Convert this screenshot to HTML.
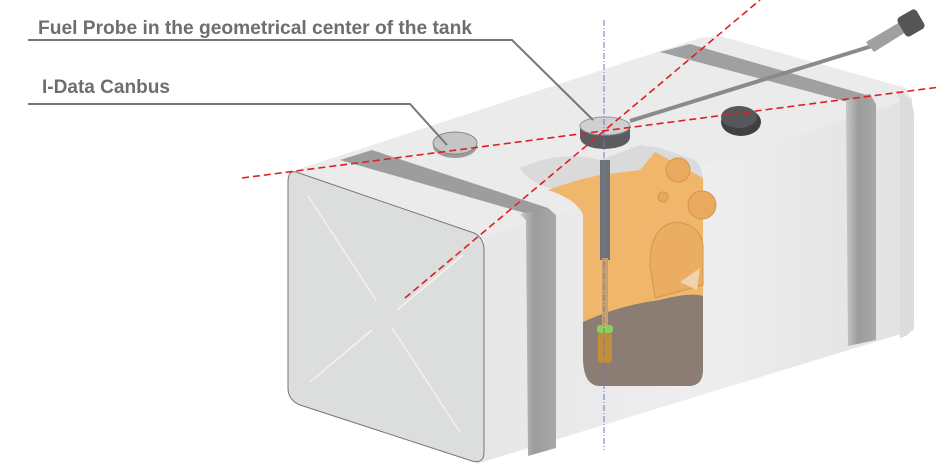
<!DOCTYPE html>
<html><head><meta charset="utf-8"><style>
html,body{margin:0;padding:0;background:#fff;width:940px;height:464px;overflow:hidden}
svg{display:block}
text{font-family:"Liberation Sans Narrow","Liberation Sans",sans-serif;font-weight:bold;fill:#6e6e6e}
</style></head><body>
<svg width="940" height="464" viewBox="0 0 940 464" xmlns="http://www.w3.org/2000/svg">
<defs>
<linearGradient id="side" x1="0" y1="0" x2="1" y2="0">
<stop offset="0" stop-color="#e6e6e7"/><stop offset="0.5" stop-color="#eeeeef"/><stop offset="1" stop-color="#e2e2e3"/></linearGradient>
<linearGradient id="band" x1="0" y1="0" x2="1" y2="0">
<stop offset="0" stop-color="#c8c8c8"/><stop offset="0.4" stop-color="#9c9c9c"/><stop offset="1" stop-color="#a8a8a8"/></linearGradient>
</defs>
<!-- top surface -->
<polygon points="290,172 700,38 720,36 906,88 912,100 484,240" fill="#ebebeb"/>
<!-- long side -->
<polygon points="484,238 912,98 914,330 476,464" fill="url(#side)"/>
<!-- right end rounding -->
<path d="M896,90 Q915,96 914,120 L914,320 Q914,335 900,338 L900,100 Z" fill="#dcdcdd"/>
<!-- front band top -->
<polygon points="340,160 372,150 548,208 528,214" fill="#9d9d9d"/>
<!-- front band side -->
<polygon points="520,214 548,208 556,215 556,448 528,456 526,220" fill="url(#band)"/>
<!-- rear band top -->
<polygon points="660,52 690,44 870,96 848,102" fill="#a0a0a0"/>
<polygon points="846,100 870,94 876,104 876,340 848,346 846,110" fill="url(#band)"/>
<!-- front face -->
<path d="M296,172 L474,233 Q484,238 484,250 L484,452 Q484,464 472,461 L300,405 Q288,400 288,388 L288,182 Q288,170 296,172 Z" fill="#dcdddd" stroke="#777" stroke-width="1"/>
<g stroke="#f2f2f2" stroke-width="1.5" fill="none">
<line x1="308" y1="196" x2="376" y2="300"/><line x1="397" y1="310" x2="463" y2="255"/>
<line x1="310" y1="382" x2="372" y2="330"/><line x1="392" y1="328" x2="460" y2="432"/>
</g>
<!-- cutaway -->
<path d="M520,168 Q560,150 600,160 L640,145 L660,148 L695,160 Q705,170 703,190 L703,370 Q703,385 690,386 L600,386 Q584,386 583,360 L583,210 Q583,196 560,190 Q530,185 520,168 Z" fill="#d6d6d6" opacity="0.8"/>
<path d="M548,190 Q575,180 600,175 L640,170 L655,152 L703,178 L703,300 L660,312 L600,320 L583,322 L583,215 Q578,200 548,190 Z" fill="#f0b66c"/>
<circle cx="678" cy="170" r="12" fill="#e9a95e" stroke="#d29650" stroke-width="1"/>
<circle cx="702" cy="205" r="14" fill="#e9a95e" stroke="#d29650" stroke-width="1"/>
<circle cx="663" cy="197" r="5" fill="#e9a95e" stroke="#d29650" stroke-width="1"/>
<path d="M650,265 Q650,225 677,222 Q700,225 703,245 L703,285 L655,298 Z" fill="#eaad62" stroke="#d29650" stroke-width="1"/>
<path d="M583,322 Q620,305 660,300 Q690,292 703,296 L703,370 Q703,385 690,386 L600,386 Q584,386 583,360 Z" fill="#8b7d74"/>
<path d="M680,282 L700,268 L697,290 Z" fill="#f0d2ae"/>
<!-- probe -->
<rect x="600" y="160" width="10" height="100" fill="#6e7378"/>
<rect x="602" y="258" width="6" height="75" fill="#c9a06a"/>
<rect x="597" y="325" width="16" height="8" rx="3" fill="#8ccf5a"/>
<rect x="598" y="333" width="14" height="30" rx="3" fill="#c89232" opacity="0.85"/>
<!-- probe cap -->
<path d="M580,126 L580,138 Q582,148 604,149 Q628,148 630,138 L630,126 Z" fill="#5c5d60"/>
<ellipse cx="605" cy="126" rx="25" ry="9" fill="#cfd0d2" stroke="#9a9a9a" stroke-width="1"/>
<!-- rod and connector -->
<line x1="630" y1="121" x2="872" y2="46" stroke="#8a8a8a" stroke-width="4"/>
<polygon points="866,42 900,22 906,32 874,52" fill="#9ea0a2"/>
<rect x="900" y="12" width="22" height="22" rx="4" transform="rotate(-30 911 23)" fill="#555"/>
<!-- dark cap -->
<ellipse cx="741" cy="122" rx="20" ry="14" fill="#3f4043"/>
<ellipse cx="739" cy="117" rx="18" ry="11" fill="#55575a"/>
<!-- canbus plate -->
<ellipse cx="455" cy="146" rx="22" ry="12" fill="#9a9b9d"/>
<ellipse cx="455" cy="143" rx="22" ry="11" fill="#c4c5c7" stroke="#888" stroke-width="1"/>
<!-- center line -->
<line x1="604" y1="20" x2="604" y2="450" stroke="#7a74b0" stroke-width="1" stroke-dasharray="6,2,1,2"/>
<!-- red lines -->
<line x1="242" y1="178" x2="940" y2="87" stroke="#e02020" stroke-width="1.6" stroke-dasharray="7,4"/>
<line x1="405" y1="298" x2="760" y2="0" stroke="#e02020" stroke-width="1.6" stroke-dasharray="7,4"/>
<!-- callouts -->
<polyline points="28,40 512,40 593,120" fill="none" stroke="#777" stroke-width="2"/>
<polyline points="28,104 410,104 447,145" fill="none" stroke="#777" stroke-width="2"/>
<text x="38" y="34" font-size="19" textLength="434" lengthAdjust="spacingAndGlyphs">Fuel Probe in the geometrical center of the tank</text>
<text x="42" y="93" font-size="19" textLength="128" lengthAdjust="spacingAndGlyphs">I-Data Canbus</text>
</svg>
</body></html>
